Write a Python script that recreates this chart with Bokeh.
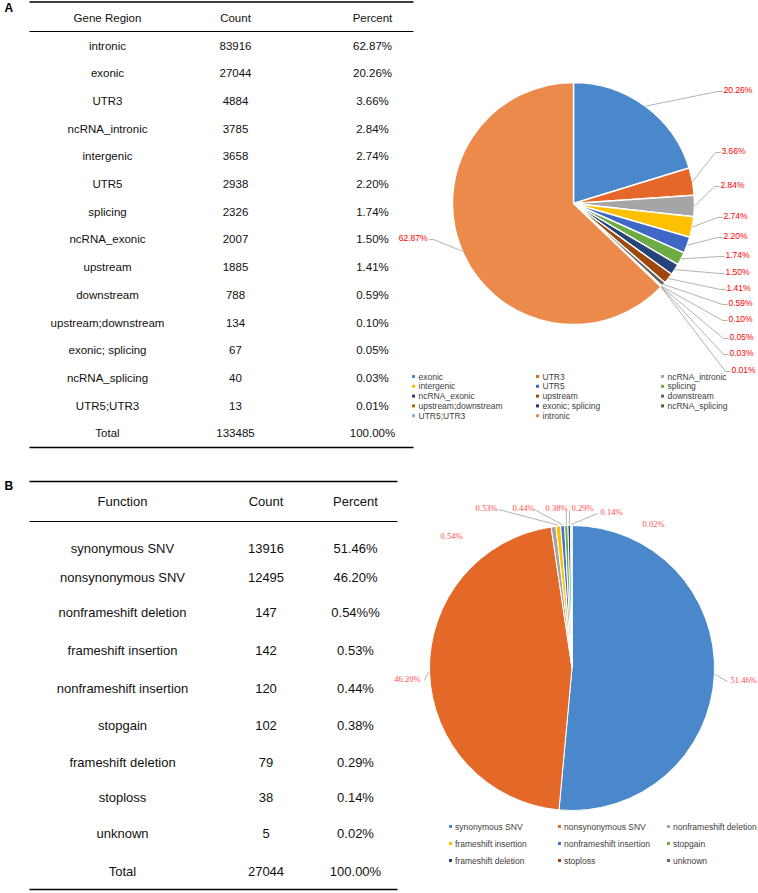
import numpy as np
from bokeh.plotting import figure
from bokeh.models import Range1d
from bokeh.embed import file_html
from bokeh.resources import INLINE
from bokeh.core.properties import value

# ---------------- Data: panel A ----------------
a_headers = ["Gene Region", "Count", "Percent"]
a_regions = ["intronic", "exonic", "UTR3", "ncRNA_intronic", "intergenic", "UTR5", "splicing",
             "ncRNA_exonic", "upstream", "downstream", "upstream;downstream", "exonic; splicing",
             "ncRNA_splicing", "UTR5;UTR3"]
a_counts = [83916, 27044, 4884, 3785, 3658, 2938, 2326, 2007, 1885, 788, 134, 67, 40, 13]
a_percents = ["62.87%", "20.26%", "3.66%", "2.84%", "2.74%", "2.20%", "1.74%", "1.50%", "1.41%",
              "0.59%", "0.10%", "0.05%", "0.03%", "0.01%"]
a_total = ["Total", "133485", "100.00%"]

a_pie_order = ["exonic", "UTR3", "ncRNA_intronic", "intergenic", "UTR5", "splicing", "ncRNA_exonic",
               "upstream", "downstream", "upstream;downstream", "exonic; splicing", "ncRNA_splicing",
               "UTR5;UTR3", "intronic"]
a_pie_colors = ["#4A88CB", "#E5672A", "#A5A5A5", "#FFC000", "#3F67C5", "#6DAB45", "#264478",
                "#9E480E", "#636363", "#997300", "#26356F", "#43682B", "#7CAFDD", "#EC8A4B"]

# ---------------- Data: panel B ----------------
b_headers = ["Function", "Count", "Percent"]
b_functions = ["synonymous SNV", "nonsynonymous SNV", "nonframeshift deletion", "frameshift insertion",
               "nonframeshift insertion", "stopgain", "frameshift deletion", "stoploss", "unknown"]
b_counts = [13916, 12495, 147, 142, 120, 102, 79, 38, 5]
b_percents = ["51.46%", "46.20%", "0.54%%", "0.53%", "0.44%", "0.38%", "0.29%", "0.14%", "0.02%"]
b_total = ["Total", "27044", "100.00%"]
b_pie_labels = ["51.46%", "46.20%", "0.54%", "0.53%", "0.44%", "0.38%", "0.29%", "0.14%", "0.02%"]
b_pie_colors = ["#4A88CB", "#E46828", "#A5A5A5", "#FFC000", "#4472C4", "#70AD47", "#264478",
                "#9E480E", "#636363"]

# ---------------- Figure ----------------
W, H = 758, 893
p = figure(width=W, height=H, x_range=Range1d(0, W), y_range=Range1d(-H, 0),
           output_backend="svg", toolbar_location=None, x_axis_type=None, y_axis_type=None,
           min_border=0, outline_line_color=None, background_fill_color="white")
p.grid.visible = False


def T(xs, ys, texts, size, color="#111111", align="center", font="Liberation Sans", style="normal"):
    p.text(x=list(xs), y=[-y for y in ys], text=list(texts), text_font=value(font),
           text_font_size=value(f"{size}px"), text_color=color, text_align=align,
           text_baseline="middle", text_font_style=style)


def hline(x0, x1, y, w=1.3):
    p.segment(x0=[x0], y0=[-y], x1=[x1], y1=[-y], line_color="black", line_width=w)


def angles(counts):
    c = np.array(counts, dtype=float)
    frac = c / c.sum()
    cum = np.cumsum(frac)
    prev = cum - frac
    start = np.pi / 2 - 2 * np.pi * cum
    end = np.pi / 2 - 2 * np.pi * prev
    mid = np.pi / 2 - 2 * np.pi * (prev + frac / 2)
    return start, end, mid


# ---------------- Panel letters ----------------
T([4], [7], ["A"], 12, color="black", align="left", style="bold")
T([4], [485], ["B"], 12, color="black", align="left", style="bold")

# ---------------- Table A ----------------
a_cols = [107, 235, 372]
a_size = 11.5
hline(29, 413, 1.5)
T(a_cols, [17] * 3, a_headers, a_size)
hline(29, 413, 31, 1.0)
a_rows_y = [45 + i * 27.7 for i in range(len(a_regions))]
T([a_cols[0]] * len(a_regions), a_rows_y, a_regions, a_size)
T([a_cols[1]] * len(a_counts), a_rows_y, [str(c) for c in a_counts], a_size)
T([a_cols[2]] * len(a_percents), a_rows_y, a_percents, a_size)
T(a_cols, [432] * 3, a_total, a_size)
hline(29, 413, 447, 1.6)

# ---------------- Pie A ----------------
acx, acy, ar = 573, 203, 121
a_pie_counts = [a_counts[a_regions.index(n)] for n in a_pie_order]
a_pie_labels = [a_percents[a_regions.index(n)] for n in a_pie_order]
st, en, md = angles(a_pie_counts)
p.wedge(x=acx, y=-acy, radius=ar, start_angle=st, end_angle=en, fill_color=a_pie_colors,
        line_color="white", line_width=1.4)

a_lab_pos = [(723, 89), (721, 150), (720, 184), (723, 215), (723, 235), (725, 254), (725, 271),
             (726, 287), (728, 302), (728, 318), (729, 336), (729, 352), (731, 369)]
xs, ys = [], []
for i, (lx, ly) in enumerate(a_lab_pos):
    ex = acx + ar * np.cos(md[i])
    ey = -acy + ar * np.sin(md[i])
    xs.append([ex, lx - 6, lx - 1])
    ys.append([ey, -(ly + 2), -(ly + 2)])
# intronic label on the left
ex = acx + ar * np.cos(md[-1])
ey = -acy + ar * np.sin(md[-1])
xs.append([ex, 433, 429])
ys.append([ey, -239, -239])
p.multi_line(xs=xs, ys=ys, line_color="#A0A0A0", line_width=0.8)
T([q[0] for q in a_lab_pos], [q[1] for q in a_lab_pos], a_pie_labels[:-1], 8.5,
  color="#FF0000", align="left")
T([427], [237], [a_pie_labels[-1]], 8.5, color="#FF0000", align="right")

# Legend A
leg_cols = [413, 537, 662]
for i, (name, col) in enumerate(zip(a_pie_order, a_pie_colors)):
    r, c = divmod(i, 3)
    y = 376 + r * 9.8
    p.scatter(x=[leg_cols[c]], y=[-y], marker="square", size=3, fill_color=col, line_color=None)
    T([leg_cols[c] + 5], [y], [name], 8.5, color="#404040", align="left")

# ---------------- Table B ----------------
b_cols = [122, 265.5, 355]
b_size = 13
hline(29, 397, 481, 1.5)
T(b_cols, [501] * 3, b_headers, b_size)
hline(29, 397, 521, 1.0)
b_rows_y = [548, 577, 612, 650, 688, 725, 762, 797, 833]
T([b_cols[0]] * len(b_functions), b_rows_y, b_functions, b_size)
T([b_cols[1]] * len(b_counts), b_rows_y, [str(c) for c in b_counts], b_size)
T([b_cols[2]] * len(b_percents), b_rows_y, b_percents, b_size)
T(b_cols, [871] * 3, b_total, b_size)
hline(29, 397, 889, 1.6)

# ---------------- Pie B ----------------
bcx, bcy, br = 571.5, 667.5, 142.5
st, en, md = angles(b_counts)
p.wedge(x=bcx, y=-bcy, radius=br, start_angle=st, end_angle=en, fill_color=b_pie_colors,
        line_color="white", line_width=1.0)

b_lab_pos = [(730, 679), (420, 678), (440, 535), (475, 507), (512, 507), (545, 507),
             (571, 507), (600, 511), (642, 523)]
b_lab_align = ["left", "right", "left", "left", "left", "left", "left", "left", "left"]
b_anchor = [(727, 681), (424, 680), None, (498, 509), (534, 509), (566, 510), (569, 510),
            (597, 513), None]
xs, ys = [], []
for i, a in enumerate(b_anchor):
    if a is None:
        continue
    ex = bcx + (br + 1) * np.cos(md[i])
    ey = -bcy + (br + 1) * np.sin(md[i])
    xs.append([ex, a[0]])
    ys.append([ey, -a[1]])
p.multi_line(xs=xs, ys=ys, line_color="#A0A0A0", line_width=0.8)
for i, (lx, ly) in enumerate(b_lab_pos):
    T([lx], [ly], [b_pie_labels[i]], 8.5, color="#FF4B4B", align=b_lab_align[i],
      font="Liberation Serif")

# Legend B
leg_cols_b = [450, 559, 668]
for i, (name, col) in enumerate(zip(b_functions, b_pie_colors)):
    r, c = divmod(i, 3)
    y = 826 + r * 17
    p.scatter(x=[leg_cols_b[c]], y=[-y], marker="square", size=3, fill_color=col, line_color=None)
    T([leg_cols_b[c] + 4.5], [y], [name], 8.5, color="#404040", align="left")

open("out.html", "w").write(file_html(p, INLINE))
